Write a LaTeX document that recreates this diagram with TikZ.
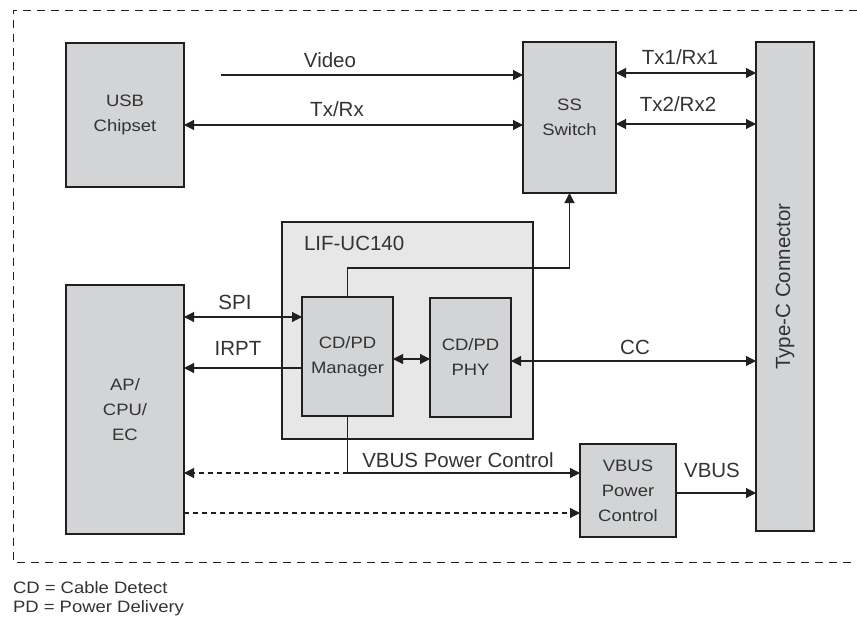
\documentclass[tikz,border=0pt]{standalone}
\usepackage{fontspec}
\setmainfont{Liberation Sans}
\newfontfamily\boxfont[FakeStretch=1.12]{Liberation Sans}
\usetikzlibrary{arrows.meta}
\definecolor{boxgray}{RGB}{211,212,214}
\definecolor{chipgray}{RGB}{231,231,232}
\definecolor{linec}{RGB}{35,31,32}
\definecolor{textc}{RGB}{51,51,51}

\begin{document}
\begin{tikzpicture}[
  x=1pt, y=-1pt,
  every node/.style={inner sep=0pt, outer sep=0pt, text=textc},
  block/.style={draw=linec, fill=boxgray, line width=1.1pt, align=center, anchor=north west, font=\boxfont\fontsize{16.5}{25}\selectfont},
  lbl/.style={font=\fontsize{20.5}{24}\selectfont},
  note/.style={anchor=west, font=\boxfont\fontsize{16.5}{20}\selectfont},
  sig/.style={draw=linec, line width=1.1pt},
  dsig/.style={sig, dash pattern=on 5pt off 4pt},
  >={Triangle[length=10pt,width=10pt]}
]
\useasboundingbox (0,0) rectangle (857,623);

% system border
\draw[linec, line width=0.9pt, dash pattern=on 8pt off 6pt] (857,10) -- (13,10) -- (13,562) -- (857,562);

% Chip and its blocks
\node[block, fill=chipgray, minimum width=251pt, minimum height=217pt] (lif) at (282,222) {};
\node[lbl, anchor=west] (liflabel) at (304,243) {LIF-UC140};
\node[block, minimum width=91pt, minimum height=119pt] (mgr) at (302,297) {CD/PD\\Manager};
\node[block, minimum width=81pt, minimum height=119pt] (phy) at (430,298) {CD/PD\\PHY};

% Outside blocks
\node[block, minimum width=118pt, minimum height=144pt] (usb) at (66,43) {USB\\Chipset};
\node[block, minimum width=93pt, minimum height=151pt] (ssw) at (523,42) {SS\\Switch};
\node[block, minimum width=58pt, minimum height=489pt] (typec) at (756,42) {};
\node[lbl, rotate=90] (typeclabel) at (typec.center) {Type-C Connector};
\node[block, minimum width=118pt, minimum height=249pt] (ap) at (66,285) {AP/\\CPU/\\EC};
\node[block, minimum width=96pt, minimum height=93pt] (vbusctl) at (580,444) {VBUS\\Power\\Control};

% Row levels
\coordinate (vidsrc) at (221,75);
\coordinate (rowtxrx) at (0,125);
\coordinate (rowtxa) at (0,73);
\coordinate (rowtxb) at (0,124);
\coordinate (rowspi) at (0,317);
\coordinate (rowirpt) at (0,368);
\coordinate (rowlink) at (0,359);
\coordinate (rowcc) at (0,361);
\coordinate (rowss) at (0,268);
\coordinate (rowpwr) at (0,473);
\coordinate (rowdash) at (0,513);
\coordinate (rowvbus) at (0,493);

% Connections
\draw[sig, ->] (vidsrc) -- (vidsrc -| ssw.west);
\draw[sig, <->] (usb.east |- rowtxrx) -- (ssw.west |- rowtxrx);
\draw[sig, <->] (ssw.east |- rowtxa) -- (typec.west |- rowtxa);
\draw[sig, <->] (ssw.east |- rowtxb) -- (typec.west |- rowtxb);

\draw[sig, <->] (ap.east |- rowspi) -- (mgr.west |- rowspi);
\draw[sig, ->] (mgr.west |- rowirpt) -- (ap.east |- rowirpt);
\draw[sig, <->] (mgr.east |- rowlink) -- (phy.west |- rowlink);
\draw[sig, <->] (phy.east |- rowcc) -- (typec.west |- rowcc);
\draw[sig, ->] (mgr.north) -- (mgr.north |- rowss) -| (ssw.south);

\draw[sig, ->] (mgr.south) |- (vbusctl.west |- rowpwr);
\draw[dsig, ->] (mgr.south |- rowpwr) -- (ap.east |- rowpwr);
\draw[dsig, ->] (ap.east |- rowdash) -- (vbusctl.west |- rowdash);
\draw[sig, ->] (vbusctl.east |- rowvbus) -- (typec.west |- rowvbus);

% Labels
\node[lbl] (video) at (330,60) {Video};
\node[lbl] (txrx) at (337,109) {Tx/Rx};
\node[lbl] (txrxa) at (680,57) {Tx1/Rx1};
\node[lbl] (txrxb) at (678,104) {Tx2/Rx2};
\node[lbl] (spi) at (235,302) {SPI};
\node[lbl] (irpt) at (238,348) {IRPT};
\node[lbl] (cc) at (635,347) {CC};
\node[lbl] (pwrlabel) at (458,460) {VBUS Power Control};
\node[lbl] (vbus) at (712,470) {VBUS};

% Notes
\node[note] (cdnote) at (13,588) {CD = Cable Detect};
\node[note] (pdnote) at (13,608) {PD = Power Delivery};
\end{tikzpicture}
\end{document}
